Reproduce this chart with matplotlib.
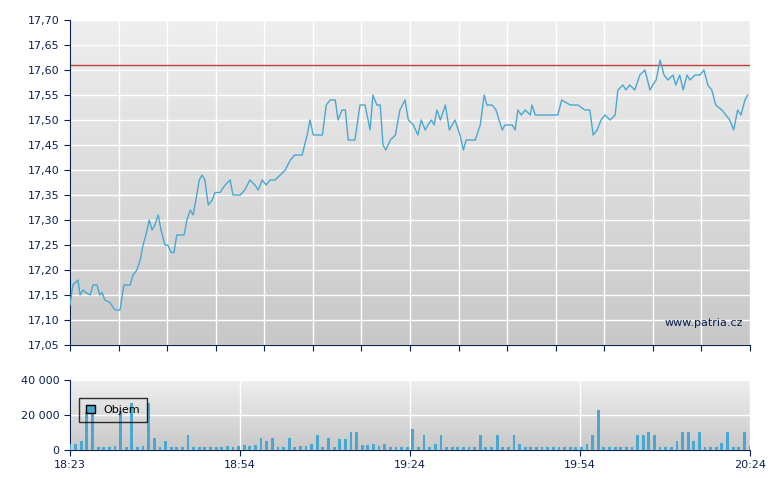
import matplotlib
matplotlib.use("Agg")
import matplotlib.pyplot as plt
import numpy as np
from matplotlib.colors import LinearSegmentedColormap

# minutes since 18:23
t = [0,0.5,1.4,1.8,2.3,2.8,3.6,4.1,4.8,5.3,5.7,6.2,7.1,8.0,8.9,9.6,10.7,11.2,11.9,12.5,13.0,13.5,14.1,14.6,15.1,15.7,16.2,16.9,17.4,18.0,18.5,19.0,20.3,20.8,21.4,21.9,22.4,23.0,23.5,24.0,24.6,25.3,25.8,26.7,27.6,28.5,29.0,30.3,31.1,32.0,32.9,33.5,34.2,34.9,35.6,36.5,37.4,38.3,39.2,40.0,41.3,42.2,42.7,43.3,44.9,45.6,46.3,47.2,47.7,48.4,49.0,49.5,50.7,51.6,52.5,53.4,53.9,54.6,55.2,55.7,56.2,57.0,57.9,58.7,59.6,60.2,61.1,61.9,62.5,63.2,63.7,64.3,64.8,65.3,65.9,66.8,67.5,68.0,68.5,69.4,70.0,70.5,71.2,72.1,73.0,73.7,74.2,75.1,75.8,76.9,77.4,78.7,79.2,79.7,80.3,81.0,81.9,82.2,82.8,83.6,84.7,85.8,86.8,87.5,89.0,90.4,91.6,92.5,93.1,93.8,94.5,95.2,96.1,97.0,97.5,98.4,98.9,99.6,100.5,101.4,102.3,103.2,103.7,104.3,105.0,105.7,106.4,107.3,107.8,108.5,109.1,109.8,110.3,111.2,112.1,112.8,113.5,114.2,114.9,116.0,116.7,117.4,118.1,118.8,119.4,120.1,120.6]
price = [17.13,17.17,17.18,17.15,17.16,17.155,17.15,17.17,17.17,17.15,17.155,17.14,17.135,17.12,17.12,17.17,17.17,17.19,17.20,17.22,17.25,17.27,17.30,17.28,17.29,17.31,17.28,17.25,17.25,17.235,17.235,17.27,17.27,17.30,17.32,17.31,17.34,17.38,17.39,17.38,17.33,17.34,17.355,17.355,17.37,17.38,17.35,17.35,17.36,17.38,17.37,17.36,17.38,17.37,17.38,17.38,17.39,17.40,17.42,17.43,17.43,17.47,17.50,17.47,17.47,17.53,17.54,17.54,17.50,17.52,17.52,17.46,17.46,17.53,17.53,17.48,17.55,17.53,17.53,17.45,17.44,17.46,17.47,17.52,17.54,17.50,17.49,17.47,17.50,17.48,17.49,17.50,17.49,17.52,17.50,17.53,17.48,17.49,17.50,17.47,17.44,17.46,17.46,17.46,17.49,17.55,17.53,17.53,17.52,17.48,17.49,17.49,17.48,17.52,17.51,17.52,17.51,17.53,17.51,17.51,17.51,17.51,17.51,17.54,17.53,17.53,17.52,17.52,17.47,17.48,17.50,17.51,17.50,17.51,17.56,17.57,17.56,17.57,17.56,17.59,17.60,17.56,17.57,17.58,17.62,17.59,17.58,17.59,17.57,17.59,17.56,17.59,17.58,17.59,17.59,17.60,17.57,17.56,17.53,17.52,17.51,17.50,17.48,17.52,17.51,17.54,17.55]
ref_level = 17.61

vol = [3500,3500,5000,22000,22000,2000,2000,2000,2500,22500,2000,27000,2000,2500,27000,7000,2000,5000,2000,2000,2000,8500,2000,2000,2000,2000,2000,2000,2500,2000,2500,3000,2500,3000,7000,5000,7000,2000,2000,7000,2000,2500,2500,3500,8500,2000,7000,2000,6500,6500,10500,10500,3000,3000,3500,2500,3500,2000,2000,2000,2000,12000,2000,8500,2000,3500,8500,2000,2000,2000,2000,2000,2000,8500,2000,2000,8500,2000,2000,8500,3500,2000,2000,2000,2000,2000,2000,2000,2000,2000,2000,2000,3500,8500,23000,2000,2000,2000,2000,2000,2000,8500,8500,10500,8500,2000,2000,2000,5000,10500,10500,5000,10500,2000,2000,2000,4000,10500,2000,2000,10500,2500]
vol_t = list(range(len(vol)))
xticklabels = ["18:23", "18:54", "19:24", "19:54", "20:24"]

navy = "#0a2050"
line_c = "#4aa8d0"
cmap = LinearSegmentedColormap.from_list("g", ["#c8c8c8", "#efefef"])
grad = np.linspace(0, 1, 256).reshape(-1, 1)

fig = plt.figure(figsize=(7.8, 4.9), dpi=100)
ax = fig.add_axes([70/780, 1-345/490, 680/780, 325/490])
axv = fig.add_axes([70/780, 1-450/490, 680/780, 70/490])

for a in (ax, axv):
    a.imshow(grad, cmap=cmap, aspect="auto", origin="lower",
             extent=[0, 1, 0, 1], transform=a.transAxes, zorder=0)
    for s in ("top", "right"):
        a.spines[s].set_visible(False)
    a.spines["left"].set_color(navy)
    a.spines["bottom"].set_color(navy)
    a.tick_params(colors=navy, labelsize=8, length=4)
    a.set_xlim(0, 121)

ax.plot(t, price, color=line_c, lw=1.0, zorder=3)
ax.axhline(ref_level, color="#c04040", lw=1, zorder=2)
ax.set_ylim(17.05, 17.70)
yt = np.arange(17.05, 17.701, 0.05)
ax.set_yticks(yt)
ax.set_yticklabels([f"{v:.2f}".replace(".", ",") for v in yt])
ax.set_xticks(np.linspace(0, 121, 15))
ax.set_xticklabels([])
ax.grid(True, color="white", lw=1, zorder=1)
ax.set_axisbelow(True)
ax.text(0.99, 0.06, "www.patria.cz", transform=ax.transAxes, ha="right",
        fontsize=8, color=navy, zorder=4)

axv.bar(vol_t, vol, width=0.5, color=line_c, zorder=3, label="Objem")
axv.set_ylim(0, 40000)
axv.set_yticks([0, 20000, 40000])
axv.set_yticklabels(["0", "20 000", "40 000"])
axv.set_xticks(np.linspace(0, 121, 5))
axv.set_xticklabels(xticklabels)
axv.grid(True, color="white", lw=1, zorder=1)
axv.set_axisbelow(True)
leg = axv.legend(loc="upper left", bbox_to_anchor=(0.005, 0.82), fontsize=8,
                 frameon=True, fancybox=False, handlelength=0.8, handleheight=0.8,
                 borderpad=0.6)
leg.get_frame().set_edgecolor("black")
leg.get_frame().set_facecolor("none")
leg.legend_handles[0].set_edgecolor("black")

fig.savefig("out.png", dpi=100)
